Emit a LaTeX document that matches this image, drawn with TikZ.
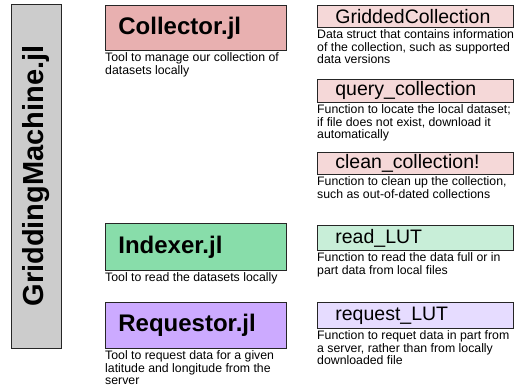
\documentclass[tikz,border=0pt]{standalone}
\usepackage{fontspec}
\setmainfont{Liberation Sans}

\definecolor{gmgray}{HTML}{CCCCCC}
\definecolor{colred}{HTML}{E8B0B0}
\definecolor{idxgreen}{HTML}{88DDAA}
\definecolor{reqpurple}{HTML}{CCAAFF}
\definecolor{colpale}{HTML}{F5D8D8}
\definecolor{idxpale}{HTML}{C8EED8}
\definecolor{reqpale}{HTML}{E6DCFF}

\tikzset{
  toolbox/.style={draw=black!85,line width=0.8pt,anchor=north west,
    text width=155pt,inner xsep=13pt,inner ysep=0pt,align=left,
    font=\fontsize{24}{24}\selectfont\bfseries},
  funcbox/.style={draw=black!85,line width=0.8pt,anchor=north west,
    text width=160pt,inner xsep=18pt,inner ysep=0pt,align=left,
    font=\fontsize{19.5}{20}\selectfont},
  note/.style={anchor=north west,inner sep=0pt,yshift=-2pt,align=left,
    font=\fontsize{12.3}{12.4}\selectfont}
}

\begin{document}
\begin{tikzpicture}[x=1pt,y=1pt]
    \useasboundingbox (0,0) rectangle (517,-389);

    % Package
    \node (gm) at (36,-176) [draw=black!85,line width=0.8pt,fill=gmgray,rotate=90,
      minimum width=344pt,minimum height=50pt,inner sep=0pt,
      font=\fontsize{29}{29}\selectfont\bfseries] {GriddingMachine.jl};

    % Tools
    \node (collector) at (105,-5) [toolbox,fill=colred,minimum height=45pt] {Collector.jl};
    \node (indexer) at (105,-223) [toolbox,fill=idxgreen,minimum height=47pt] {Indexer.jl};
    \node (requestor) at (105,-302) [toolbox,fill=reqpurple,minimum height=46pt] {Requestor.jl};

    \node (collectornote) at (collector.south west) [note]
      {Tool to manage our collection of\\datasets locally};
    \node (indexernote) at (indexer.south west) [note]
      {Tool to read the datasets locally};
    \node (requestornote) at (requestor.south west) [note]
      {Tool to request data for a given\\latitude and longitude from the\\server};

    % Functions
    \node (gridded) at (317,-5) [funcbox,fill=colpale,minimum height=22pt] {GriddedCollection};
    \node (query) at (317,-79) [funcbox,fill=colpale,minimum height=23pt] {query\_collection};
    \node (clean) at (317,-152) [funcbox,fill=colpale,minimum height=22pt] {clean\_collection!};
    \node (readlut) at (317,-225) [funcbox,fill=idxpale,minimum height=25pt] {read\_LUT};
    \node (requestlut) at (317,-302) [funcbox,fill=reqpale,minimum height=26pt] {request\_LUT};

    \node (griddednote) at (gridded.south west) [note]
      {Data struct that contains information\\of the collection, such as supported\\data versions};
    \node (querynote) at (query.south west) [note]
      {Function to locate the local dataset;\\if file does not exist, download it\\automatically};
    \node (cleannote) at (clean.south west) [note]
      {Function to clean up the collection,\\such as out-of-dated collections};
    \node (readlutnote) at (readlut.south west) [note]
      {Function to read the data full or in\\part data from local files};
    \node (requestlutnote) at (requestlut.south west) [note]
      {Function to requet data in part from\\a server, rather than from locally\\downloaded file};
\end{tikzpicture}
\end{document}
